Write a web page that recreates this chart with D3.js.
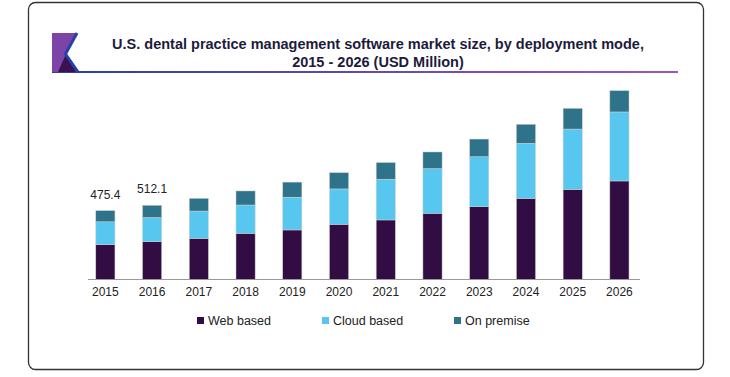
<!DOCTYPE html>
<html>
<head>
<meta charset="utf-8">
<script src="https://cdn.jsdelivr.net/npm/d3@7"></script>
<style>
  html, body { margin: 0; padding: 0; background: #fff; }
  svg { display: block; font-family: "Liberation Sans", Arial, sans-serif; }
</style>
</head>
<body>
<svg id="chart" width="730" height="377"></svg>
<script>
const years = ["2015","2016","2017","2018","2019","2020","2021","2022","2023","2024","2025","2026"];
const webBased   = [241, 262, 284, 319, 342, 381, 411, 457, 502, 560, 622, 680];
const cloudBased = [157, 165.5, 188, 195, 226, 244, 281, 308, 345, 380, 416, 476];
const onPremise  = [77.4, 84.6, 88, 97, 104, 112, 115, 115, 122, 131, 143, 147];
const seriesNames = ["Web based", "Cloud based", "On premise"];
const seriesColors = ["#320d44", "#57c7ef", "#2e7389"];
const totalLabels = [{year: "2015", text: "475.4"}, {year: "2016", text: "512.1"}];

const svg = d3.select("#chart");

// Frame
svg.append("rect").attr("x", 28.5).attr("y", 2.5).attr("width", 675).attr("height", 367)
  .attr("rx", 7).attr("fill", "#fff").attr("stroke", "#333").attr("stroke-width", 1.3);

// Header decoration
const grad = svg.append("defs").append("linearGradient").attr("id", "ul")
  .attr("x1", "0%").attr("x2", "100%");
grad.append("stop").attr("offset", "0%").attr("stop-color", "#2b3f9e");
grad.append("stop").attr("offset", "100%").attr("stop-color", "#9b55bd");
svg.append("rect").attr("x", 52).attr("y", 71).attr("width", 626).attr("height", 2).attr("fill", "url(#ul)");

// Logo
svg.append("polygon").attr("points", "52,33 76,33 66,54 78,72 52,72").attr("fill", "#7b44a6");
svg.append("polygon").attr("points", "58,72 66,54 76,72").attr("fill", "#3a1252");
svg.append("polyline").attr("points", "77,33 65.5,54 78,72").attr("fill", "none")
  .attr("stroke", "#2741a8").attr("stroke-width", 3);

// Title
const title = svg.append("text").attr("text-anchor", "middle").attr("fill", "#1d1b3b")
  .style("font-weight", "bold").style("font-size", "14.5px");
title.append("tspan").attr("x", 378).attr("y", 49).text("U.S. dental practice management software market size, by deployment mode,");
title.append("tspan").attr("x", 378).attr("y", 67).text("2015 - 2026 (USD Million)");

// Scales
const x = d3.scaleBand().domain(years).range([82, 642.8]).paddingInner(0.59).paddingOuter(0.295);
const y = d3.scaleLinear().domain([0, 1380]).range([279.5, 79.5]);

const table = years.map((yr, i) => ({year: yr, web: webBased[i], cloud: cloudBased[i], prem: onPremise[i]}));
const stack = d3.stack().keys(["web", "cloud", "prem"])(table);

svg.append("g").selectAll("g").data(stack).join("g")
  .attr("fill", (d, i) => seriesColors[i])
  .selectAll("rect").data(d => d).join("rect")
  .attr("x", d => x(d.data.year))
  .attr("y", d => y(d[1]))
  .attr("width", x.bandwidth())
  .attr("height", d => y(d[0]) - y(d[1]))
  .attr("stroke", "#d0d0d0").attr("stroke-width", 0.5);

// Axis
const axis = svg.append("g").attr("transform", "translate(0,279.5)")
  .call(d3.axisBottom(x).tickSize(0).tickPadding(8));
axis.select(".domain").attr("stroke", "#999").attr("d", "M88,0H640");
axis.selectAll("text").attr("fill", "#222").style("font-size", "12px")
  .style("font-family", "'Liberation Sans', Arial, sans-serif");

// Total labels
const totals = years.map((yr, i) => webBased[i] + cloudBased[i] + onPremise[i]);
svg.append("g").selectAll("text").data(totalLabels).join("text")
  .attr("x", d => x(d.year) + x.bandwidth() / 2)
  .attr("y", d => y(totals[years.indexOf(d.year)]) - 12)
  .attr("text-anchor", "middle").attr("fill", "#222").style("font-size", "12px")
  .text(d => d.text);

// Legend
const legendX = [197, 322, 454];
const lg = svg.append("g").selectAll("g").data(seriesNames).join("g")
  .attr("transform", (d, i) => `translate(${legendX[i]},317)`);
lg.append("rect").attr("width", 7).attr("height", 7).attr("fill", (d, i) => seriesColors[i]);
lg.append("text").attr("x", 11).attr("y", 7.5).attr("fill", "#222").style("font-size", "12.5px").text(d => d);
</script>
</body>
</html>
